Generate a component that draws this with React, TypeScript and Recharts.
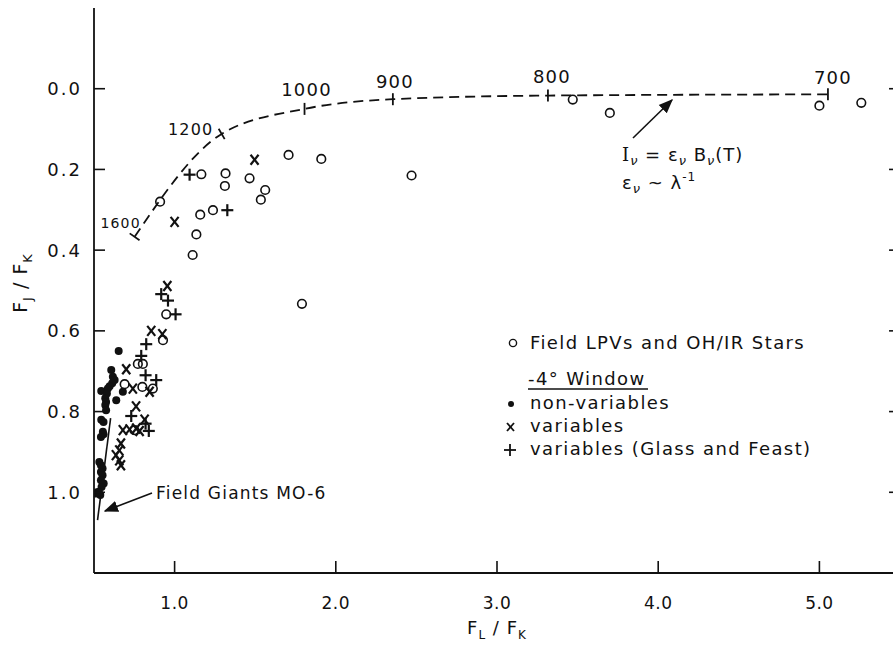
import React from 'react';
import { ComposedChart, XAxis, YAxis, Scatter, Line, ReferenceLine } from 'recharts';

// ---- data ----
const fieldLPVs = [
  [0.91, 0.28], [1.166, 0.212], [1.316, 0.21], [1.312, 0.241], [1.465, 0.222],
  [1.707, 0.164], [1.91, 0.174], [2.47, 0.215], [1.562, 0.251], [1.535, 0.275],
  [1.238, 0.301], [1.159, 0.312], [1.135, 0.361], [1.112, 0.412], [1.79, 0.533],
  [3.47, 0.027], [3.7, 0.06], [5.0, 0.042], [5.26, 0.035],
  [0.948, 0.559], [0.928, 0.623], [0.772, 0.682], [0.803, 0.682], [0.69, 0.732],
  [0.8, 0.739], [0.865, 0.743], [0.75, 0.846],
];
const nonVariables = [
  [0.653, 0.65], [0.607, 0.697], [0.617, 0.714], [0.628, 0.722], [0.613, 0.73],
  [0.597, 0.737], [0.586, 0.743], [0.545, 0.749], [0.679, 0.751], [0.58, 0.755],
  [0.57, 0.767], [0.575, 0.776], [0.57, 0.784], [0.575, 0.797], [0.638, 0.772],
  [0.545, 0.82], [0.559, 0.826], [0.555, 0.85], [0.559, 0.856], [0.543, 0.863],
  [0.533, 0.925], [0.543, 0.933], [0.553, 0.941], [0.543, 0.95], [0.553, 0.958],
  [0.543, 0.97], [0.56, 0.978], [0.547, 0.987], [0.522, 0.999], [0.539, 1.007],
  [0.512, 1.003], [0.53, 1.0],
];
const variables = [
  [0.955, 0.489], [1.0, 0.33], [1.496, 0.176], [0.855, 0.6], [0.924, 0.608],
  [0.7, 0.695], [0.741, 0.743], [0.845, 0.751], [0.761, 0.787], [0.814, 0.82],
  [0.679, 0.846], [0.721, 0.844], [0.762, 0.842], [0.783, 0.848], [0.667, 0.879],
  [0.657, 0.896], [0.636, 0.908], [0.657, 0.921], [0.667, 0.933],
];
const glassFeast = [
  [1.093, 0.213], [1.327, 0.301], [0.917, 0.509], [0.959, 0.525], [1.006, 0.559],
  [0.824, 0.633], [0.793, 0.662], [0.82, 0.71], [0.886, 0.722], [0.731, 0.811],
  [0.82, 0.83], [0.84, 0.848],
];
// blackbody (emissivity ~ 1/lambda) curve with temperature marks
const tempLabels = ['1600', '1200', '1000', '900', '800', '700'];
const tempX = [0.752, 1.292, 1.806, 2.354, 3.316, 5.053];
const tempY = [0.367, 0.112, 0.05, 0.026, 0.017, 0.014];
// field giants M0-6 locus
const giantsX = [0.603, 0.522];
const giantsY = [0.816, 1.069];

const xDomain = [0.5, 5.5];
const yDomain = [-0.2, 1.2];
const xTicks = [1, 2, 3, 4, 5];
const yTicks = [0, 0.2, 0.4, 0.6, 0.8, 1.0];

const toPts = (arr: number[][]) => arr.map(([x, y]) => ({ x, y }));
const curveData = tempX.map((x, i) => ({ x, y: tempY[i] }));
const tempData = tempX.map((x, i) => ({ x, y: tempY[i], label: tempLabels[i] }));

// ---- styles ----
const FONT = '"DejaVu Sans", sans-serif';
const RIGHT_TICK_LEN = 0.068; // in x units (~11px)
const tempStyle: Record<string, { angle: number; dx: number; dy: number; size: number }> = {
  '1600': { angle: 35, dx: -14, dy: -14, size: 14 },
  '1200': { angle: 60, dx: -31, dy: -5, size: 16 },
  '1000': { angle: 90, dx: 2, dy: -19, size: 18 },
  '900': { angle: 90, dx: 2, dy: -18, size: 18 },
  '800': { angle: 90, dx: 4, dy: -19, size: 18 },
  '700': { angle: 90, dx: 5, dy: -17, size: 18 },
};

const OpenCircle = (p: any) => (
  <circle cx={p.cx} cy={p.cy} r={4.3} fill="none" stroke="#111" strokeWidth={1.6} />
);
const Dot = (p: any) => <circle cx={p.cx} cy={p.cy} r={4} fill="#111" />;
const Cross = (p: any) => (
  <g stroke="#111" strokeWidth={2.2}>
    <line x1={p.cx - 4} y1={p.cy - 5} x2={p.cx + 4} y2={p.cy + 5} />
    <line x1={p.cx + 4} y1={p.cy - 5} x2={p.cx - 4} y2={p.cy + 5} />
  </g>
);
const Plus = (p: any) => (
  <g stroke="#111" strokeWidth={2.2}>
    <line x1={p.cx - 6} y1={p.cy} x2={p.cx + 6} y2={p.cy} />
    <line x1={p.cx} y1={p.cy - 6} x2={p.cx} y2={p.cy + 6} />
  </g>
);
const TempMark = (p: any) => {
  const s = tempStyle[p.payload.label];
  const a = (s.angle * Math.PI) / 180;
  const h = 6;
  return (
    <g>
      <line x1={p.cx - h * Math.cos(a)} y1={p.cy - h * Math.sin(a)} x2={p.cx + h * Math.cos(a)} y2={p.cy + h * Math.sin(a)} stroke="#111" strokeWidth={1.8} />
      <text x={p.cx + s.dx} y={p.cy + s.dy} dy="0.36em" textAnchor="middle" fontSize={s.size} fontFamily={FONT} letterSpacing={1.2} fill="#111">{p.payload.label}</text>
    </g>
  );
};

const BottomTick = (p: any) => (
  <g>
    <line x1={p.x} y1={p.y} x2={p.x} y2={p.y - 12} stroke="#111" strokeWidth={1.6} />
    <text x={p.x} y={p.y + 36} textAnchor="middle" fontSize={17} fontFamily={FONT} letterSpacing={0.5} fill="#111">{p.payload.value.toFixed(1)}</text>
  </g>
);
const TopTick = (p: any) => (
  <line x1={p.x} y1={p.y} x2={p.x} y2={p.y + 12} stroke="#111" strokeWidth={1.6} />
);
const LeftTick = (p: any) => (
  <g>
    <line x1={p.x} y1={p.y} x2={p.x + 11} y2={p.y} stroke="#111" strokeWidth={1.6} />
    <text x={p.x - 12} y={p.y} dy="0.36em" textAnchor="end" fontSize={18} fontFamily={FONT} letterSpacing={2} fill="#111">{p.payload.value.toFixed(1)}</text>
  </g>
);

const axisLine = { stroke: '#111', strokeWidth: 1.8 };

export default function App() {
  return (
    <div style={{ position: 'absolute', left: 0, top: 0, width: 893, height: 646, overflow: 'hidden', background: '#fff' }}>
      <ComposedChart width={940} height={646} margin={{ top: 8, right: 40, bottom: 0, left: 0 }}>
        <XAxis dataKey="x" type="number" domain={xDomain} ticks={xTicks} allowDataOverflow
          axisLine={axisLine} tickLine={false} tickSize={0} tickMargin={0} tick={<BottomTick />} height={73} />
        <XAxis xAxisId="top" orientation="top" dataKey="x" type="number" domain={xDomain} ticks={xTicks} allowDataOverflow
          axisLine={axisLine} tickLine={false} tickSize={0} tickMargin={0} tick={<TopTick />} height={0} />
        <YAxis dataKey="y" type="number" domain={yDomain} reversed ticks={yTicks} allowDataOverflow
          axisLine={axisLine} tickLine={false} tickSize={0} tickMargin={0} tick={<LeftTick />} width={94} />
        {yTicks.map((t) => (
          <ReferenceLine key={'rt' + t} segment={[{ x: xDomain[1] - RIGHT_TICK_LEN, y: t }, { x: xDomain[1], y: t }]} stroke="#111" strokeWidth={1.6} ifOverflow="visible" />
        ))}
        <Line data={curveData} dataKey="y" type="monotoneX" stroke="#111" strokeWidth={1.8} strokeDasharray="10 6" dot={false} isAnimationActive={false} />
        <Scatter data={tempData} shape={<TempMark />} isAnimationActive={false} />
        <ReferenceLine segment={[{ x: giantsX[0], y: giantsY[0] }, { x: giantsX[1], y: giantsY[1] }]} stroke="#111" strokeWidth={1.6} ifOverflow="visible" />
        <Scatter data={toPts(fieldLPVs)} shape={<OpenCircle />} isAnimationActive={false} />
        <Scatter data={toPts(nonVariables)} shape={<Dot />} isAnimationActive={false} />
        <Scatter data={toPts(variables)} shape={<Cross />} isAnimationActive={false} />
        <Scatter data={toPts(glassFeast)} shape={<Plus />} isAnimationActive={false} />
      </ComposedChart>
      <svg width={893} height={646} style={{ position: 'absolute', left: 0, top: 0, pointerEvents: 'none' }}>
        <defs>
          <marker id="ah" viewBox="0 0 10 10" refX="9" refY="5" markerWidth="9" markerHeight="9" orient="auto-start-reverse">
            <path d="M0,1 L10,5 L0,9 z" fill="#111" />
          </marker>
        </defs>
        <g fontFamily={FONT} fill="#111">
          {/* axis titles */}
          <text x={497} y={634} textAnchor="middle" fontSize={18} letterSpacing={1}>
            F<tspan fontSize={12} dy={5}>L</tspan><tspan dy={-5}> / F</tspan><tspan fontSize={12} dy={5}>K</tspan>
          </text>
          <text transform="translate(27,283) rotate(-90)" textAnchor="middle" fontSize={19} letterSpacing={1}>
            F<tspan fontSize={13} dy={5}>J</tspan><tspan dy={-5}> / F</tspan><tspan fontSize={13} dy={5}>K</tspan>
          </text>
          {/* legend */}
          <circle cx={513} cy={343} r={3.6} fill="none" stroke="#111" strokeWidth={1.4} />
          <text x={530} y={349} fontSize={18} letterSpacing={1.4}>Field LPVs and OH/IR Stars</text>
          <text x={528} y={385} fontSize={18} letterSpacing={1.4}>-4° Window</text>
          <line x1={528} y1={389} x2={648} y2={389} stroke="#111" strokeWidth={1.5} />
          <circle cx={511} cy={404} r={3} fill="#111" />
          <text x={530} y={409} fontSize={18} letterSpacing={1.4}>non-variables</text>
          <g stroke="#111" strokeWidth={1.8}>
            <line x1={507} y1={423} x2={514} y2={431} />
            <line x1={514} y1={423} x2={507} y2={431} />
            <line x1={504} y1={450} x2={516} y2={450} />
            <line x1={510} y1={444} x2={510} y2={456} />
          </g>
          <text x={530} y={432} fontSize={18} letterSpacing={1.4}>variables</text>
          <text x={530} y={455} fontSize={18} letterSpacing={1.4}>variables (Glass and Feast)</text>
          {/* field giants annotation */}
          <line x1={152} y1={493} x2={105} y2={511} stroke="#111" strokeWidth={1.6} markerEnd="url(#ah)" />
          <text x={156} y={499} fontSize={17} letterSpacing={1.2}>Field Giants MO-6</text>
          {/* emissivity annotation */}
          <line x1={633} y1={138} x2={672} y2={100} stroke="#111" strokeWidth={1.6} markerEnd="url(#ah)" />
          <text x={622} y={161} fontSize={18} letterSpacing={1}>
            <tspan fontFamily='"DejaVu Serif", serif'>I</tspan><tspan fontSize={13} dy={4} fontStyle="italic">ν</tspan><tspan dy={-4}> = ε</tspan><tspan fontSize={13} dy={4} fontStyle="italic">ν</tspan><tspan dy={-4}> B</tspan><tspan fontSize={13} dy={4} fontStyle="italic">ν</tspan><tspan dy={-4}>(T)</tspan>
          </text>
          <text x={622} y={189} fontSize={18} letterSpacing={1}>
            ε<tspan fontSize={13} dy={4} fontStyle="italic">ν</tspan><tspan dy={-4}> ~ λ</tspan><tspan fontSize={12} dy={-8}>-1</tspan>
          </text>
        </g>
      </svg>
    </div>
  );
}
